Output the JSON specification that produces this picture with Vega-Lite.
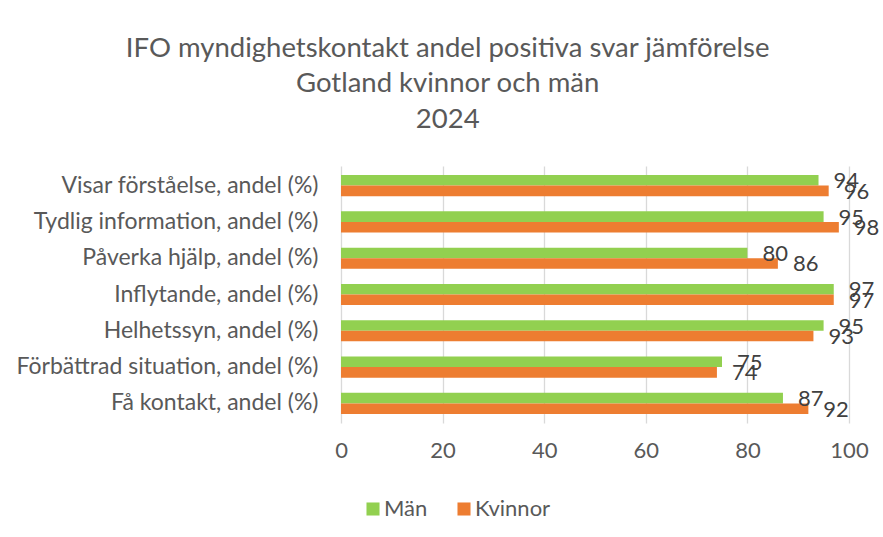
{
  "$schema": "https://vega.github.io/schema/vega-lite/v6.json",
  "autosize": {"type": "none"},
  "width": 508,
  "height": 257,
  "padding": {"left": 341, "top": 166, "right": 34, "bottom": 114},
  "background": "white",
  "title": {
    "text": ["IFO myndighetskontakt andel positiva svar jämförelse", "Gotland kvinnor och män", "2024"],
    "frame": "bounds",
    "anchor": "middle",
    "font": "Lato",
    "fontSize": 27.5,
    "fontWeight": "normal",
    "color": "#595959",
    "lineHeight": 35.5,
    "offset": 33
  },
  "data": {
    "values": [
      {"kategori": "Visar förståelse, andel (%)", "kön": "Män", "värde": 94},
      {"kategori": "Visar förståelse, andel (%)", "kön": "Kvinnor", "värde": 96},
      {"kategori": "Tydlig information, andel (%)", "kön": "Män", "värde": 95},
      {"kategori": "Tydlig information, andel (%)", "kön": "Kvinnor", "värde": 98},
      {"kategori": "Påverka hjälp, andel (%)", "kön": "Män", "värde": 80},
      {"kategori": "Påverka hjälp, andel (%)", "kön": "Kvinnor", "värde": 86},
      {"kategori": "Inflytande, andel (%)", "kön": "Män", "värde": 97},
      {"kategori": "Inflytande, andel (%)", "kön": "Kvinnor", "värde": 97},
      {"kategori": "Helhetssyn, andel (%)", "kön": "Män", "värde": 95},
      {"kategori": "Helhetssyn, andel (%)", "kön": "Kvinnor", "värde": 93},
      {"kategori": "Förbättrad situation, andel (%)", "kön": "Män", "värde": 75},
      {"kategori": "Förbättrad situation, andel (%)", "kön": "Kvinnor", "värde": 74},
      {"kategori": "Få kontakt, andel (%)", "kön": "Män", "värde": 87},
      {"kategori": "Få kontakt, andel (%)", "kön": "Kvinnor", "värde": 92}
    ]
  },
  "encoding": {
    "y": {
      "field": "kategori",
      "type": "nominal",
      "sort": null,
      "scale": {"paddingInner": 0.42, "paddingOuter": 0.25},
      "axis": {
        "title": null,
        "ticks": false,
        "domain": false,
        "labelFont": "Lato",
        "labelFontSize": 23,
        "labelColor": "#595959",
        "labelPadding": 23,
        "labelLimit": 400
      }
    },
    "yOffset": {"field": "kön", "type": "nominal", "sort": ["Män", "Kvinnor"]},
    "x": {
      "field": "värde",
      "type": "quantitative",
      "scale": {"domain": [0, 100]},
      "axis": {
        "title": null,
        "values": [0, 20, 40, 60, 80, 100],
        "ticks": false,
        "domain": false,
        "grid": true,
        "gridColor": "#D9D9D9",
        "gridWidth": 1.3,
        "labelFlush": false,
        "labelFont": "Lato",
        "labelFontSize": 22,
        "labelColor": "#595959",
        "labelPadding": 17
      }
    },
    "color": {
      "field": "kön",
      "type": "nominal",
      "scale": {"domain": ["Män", "Kvinnor"], "range": ["#92D050", "#ED7D31"]},
      "legend": {
        "title": null,
        "orient": "none",
        "direction": "horizontal",
        "legendX": 21,
        "legendY": 332,
        "symbolType": "square",
        "symbolSize": 170,
        "symbolStrokeWidth": 0,
        "labelFont": "Lato",
        "labelFontSize": 22,
        "labelColor": "#595959",
        "columnPadding": 25,
        "labelOffset": 0
      }
    }
  },
  "layer": [
    {"mark": {"type": "bar"}},
    {
      "mark": {"type": "text", "align": "left", "baseline": "middle", "dx": 15, "dy": 1, "font": "Lato", "fontSize": 22, "color": "#404040"},
      "encoding": {
        "text": {"field": "värde", "type": "quantitative"},
        "color": {"value": "#404040"}
      }
    }
  ],
  "config": {"view": {"stroke": null}}
}
